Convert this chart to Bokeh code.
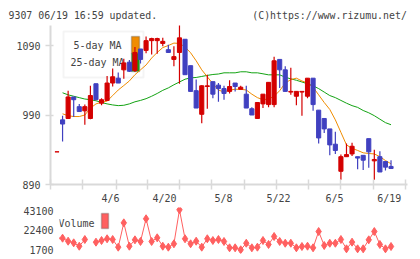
from bokeh.plotting import figure
from bokeh.layouts import column
from bokeh.models import Range1d, FixedTicker, Label, BoxAnnotation, ColumnDataSource
from bokeh.embed import file_html
from bokeh.resources import INLINE

nan = float("nan")

# Daily prices (trading-day order, oldest first)
opens = [937, 983, 985, 1016, 1002, 996, 985, 1035, 1007, 1011, 1036, 1043, 1055, 1066, 1054, 1085,
         1083, 1097, 1097, 1093, 1084, 1070, 1080, 1099, 1061, 1025, 991, 1031, 1038, 1033, 1028, 1024,
         1036, 1027, 1020, 999, 985, 1006, 1005, 1005, 1070, 1055, 1023, 1017, 1023, 1017, 1043, 997,
         985, 970, 948, 909, 930, 934, 930, 932, 956, 924, 930, 923, 916]
highs = [937, 989, 1025, 1016, 1006, 1005, 1032, 1035, 1014, 1046, 1057, 1051, 1071, 1069, 1088, 1085,
         1103, 1101, 1101, 1101, 1091, 1089, 1122, 1099, 1061, 1041, 1033, 1048, 1038, 1036, 1032, 1040,
         1036, 1032, 1032, 1001, 1008, 1020, 1037, 1074, 1070, 1060, 1058, 1024, 1024, 1043, 1043, 997,
         985, 970, 966, 933, 949, 950, 930, 932, 956, 940, 938, 923, 925]
lows = [937, 952, 985, 987, 995, 976, 984, 1012, 1004, 1010, 1031, 1036, 1042, 1052, 1052, 1064,
        1079, 1077, 1078, 1089, 1080, 1060, 1035, 1048, 1024, 1000, 978, 999, 1014, 1009, 1012, 1021,
        1024, 1027, 1000, 990, 985, 1000, 1001, 1001, 1029, 1024, 1019, 1004, 989, 1014, 996, 949,
        964, 932, 934, 897, 930, 931, 912, 911, 914, 897, 908, 910, 913]
closes = [937, 977, 1016, 1012, 995, 1002, 1018, 1012, 1012, 1036, 1045, 1036, 1065, 1053, 1080, 1070,
          1097, 1100, 1100, 1096, 1080, 1074, 1101, 1048, 1024, 1000, 1032, 1032, 1020, 1028, 1021, 1031,
          1031, 1030, 1000, 990, 1008, 1020, 1037, 1068, 1055, 1024, 1024, 1024, 1024, 1043, 1005, 957,
          970, 947, 939, 930, 933, 945, 928, 925, 937, 926, 908, 915, 913]

# Moving averages
ma5 = [nan, 991.7, 989, 987.8, 987.8, 990, 999.8, 1006, 1008.4, 1010, 1018, 1026, 1032.4, 1039, 1048,
       1055, 1062, 1072, 1080, 1087, 1090, 1093.5, 1093, 1088, 1079.5, 1068, 1055, 1045, 1035, 1026,
       1023, 1026, 1027, 1027, 1026, 1020, 1015, 1012, 1013, 1017, 1025, 1036, 1041, 1043, 1039, 1036,
       1030, 1019, 1008, 998, 983, 965, 947, 942, 939, 935.6, 934.6, 934, 930, 924.5, 919.8]
ma25 = [nan, 1022, 1019, 1017, 1015, 1013, 1012, 1010.5, 1008, 1006, 1004.5, 1003.5, 1004, 1006, 1009,
        1011, 1013.5, 1017, 1021, 1025.5, 1029, 1033.5, 1037.5, 1041.5, 1043.5, 1044, 1045.5, 1047,
        1048.3, 1049, 1050.7, 1050.7, 1050.7, 1052.2, 1052.2, 1050.7, 1050.7, 1049.3, 1047.8, 1047.8,
        1047.8, 1044.4, 1042, 1040, 1037.5, 1035, 1032, 1028, 1023, 1018, 1015, 1011, 1007, 1003.5,
        1001, 996.5, 993.2, 989, 984, 979, 976]

# Daily volume
volume = [13400, 13400, 10300, 8600, 5100, 12050, nan, 9300, 11000, 12800, 12050, 4100, 29300, 5100,
          11700, 10000, 33500, 10000, 13800, 5100, 4100, 7600, 42800, 12800, 7600, 10300, 4100, 12800,
          11000, 12050, 10000, 3460, 3460, 1400, 8200, 3460, 4100, 11000, 6900, 15150, 10000, 8200,
          8200, 3460, 4800, 5100, 3460, 20300, 5840, 8200, 8200, 12050, 2400, 9300, 2400, 2400, 11700,
          20300, 6900, 2400, 4800]

date_labels = ["4/6", "4/20", "5/8", "5/22", "6/5", "6/19"]
date_label_pos = [9.6, 19.3, 29.9, 39.8, 49.85, 59.7]
grid_tick_pos = [-1.16, 4.58, 10.69, 16.26, 22.0, 27.75, 33.68, 39.47, 45.22, 50.96, 56.89, 62.6]
price_ticks = [890, 990, 1090]
volume_ticks = [1700, 22400, 43100]

header_left = "9307 06/19 16:59 updated."
header_right = "(C)https://www.rizumu.net/"

RED = "#d40000"
BLUE = "#4040c0"
ORANGE = "#f08c00"
GREEN = "#13a313"
VOLC = "#ff6060"
AXIS = "#d9d9d9"
TEXT = "#444444"
FONT = "DejaVu Sans Mono"

idx = list(range(len(closes)))
up = [c >= o for o, c in zip(opens, closes)]
colors = [RED if u else BLUE for u in up]
src = ColumnDataSource(dict(
    x=idx, o=opens, h=highs, l=lows, c=closes,
    top=[max(o, c) for o, c in zip(opens, closes)],
    bot=[min(o, c) for o, c in zip(opens, closes)],
    col=colors,
))

X0, X1 = -1.168, 62.96

p = figure(width=420, height=206, x_range=Range1d(X0, X1), y_range=Range1d(890, 1118.8),
           output_backend="svg", toolbar_location=None,
           min_border_left=50, min_border_right=13, min_border_top=25, min_border_bottom=22)
p.frame_align = False
p.outline_line_color = None
p.grid.visible = False
p.background_fill_color = "white"

# header line: one monospace title, the two parts held apart by no-break spaces
p.title.text = header_left + "\u00a0" * 16 + header_right
p.title.align = "left"
p.title.offset = -42
p.title.standoff = 9
p.title.text_font = FONT
p.title.text_font_size = "9.9px"
p.title.text_font_style = "normal"
p.title.text_color = TEXT

# price legend (drawn beneath the candles)
p.add_layout(BoxAnnotation(left=13, right=93, bottom=107, top=153,
                           left_units="screen", right_units="screen",
                           bottom_units="screen", top_units="screen",
                           fill_color=None, line_color=AXIS, line_width=2, level="underlay"))
p.add_layout(BoxAnnotation(left=81, right=89, bottom=131, top=148,
                           left_units="screen", right_units="screen",
                           bottom_units="screen", top_units="screen",
                           fill_color=ORANGE, fill_alpha=1, line_color="#444444", line_width=1.5,
                           level="underlay"))
p.add_layout(BoxAnnotation(left=81, right=89, bottom=113, top=131,
                           left_units="screen", right_units="screen",
                           bottom_units="screen", top_units="screen",
                           fill_color=GREEN, fill_alpha=1, line_color="#444444", line_width=1.5,
                           level="underlay"))
for txt, yy in (("5-day MA", 139), ("25-day MA", 122.5)):
    p.add_layout(Label(x=47, y=yy, x_units="screen", y_units="screen", text=txt,
                       text_font=FONT, text_font_size="10px", text_color=TEXT,
                       text_align="center", text_baseline="middle", level="underlay"))

# moving averages
p.line(idx, ma25, line_color=GREEN, line_width=1)
p.line(idx, ma5, line_color=ORANGE, line_width=1)

# candles
p.segment(x0="x", y0="l", x1="x", y1="h", line_color="col", line_width=1.2, source=src)
p.vbar(x="x", width=0.74, top="top", bottom="bot", fill_color="col", line_color="col",
       line_width=1, source=src)

# axes
xa = p.xaxis[0]
xa.ticker = FixedTicker(ticks=date_label_pos, minor_ticks=grid_tick_pos)
xa.major_label_overrides = {pos: lab for pos, lab in zip(date_label_pos, date_labels)}
xa.major_tick_line_color = None
xa.major_tick_out = 5
xa.major_tick_in = 0
xa.minor_tick_line_color = AXIS
xa.minor_tick_line_width = 1.5
xa.minor_tick_in = 5
xa.minor_tick_out = 5
xa.axis_line_color = AXIS
xa.axis_line_width = 2
xa.major_label_standoff = 3
xa.major_label_text_font = FONT
xa.major_label_text_font_size = "10px"
xa.major_label_text_color = TEXT

ya = p.yaxis[0]
ya.ticker = FixedTicker(ticks=price_ticks)
ya.major_tick_line_color = AXIS
ya.major_tick_line_width = 1.5
ya.major_tick_in = 3
ya.major_tick_out = 5
ya.axis_line_color = AXIS
ya.axis_line_width = 2
ya.major_label_standoff = 5
ya.major_label_text_font = FONT
ya.major_label_text_font_size = "10px"
ya.major_label_text_color = TEXT

# volume panel
VX0 = 0.449
v = figure(width=420, height=53, x_range=Range1d(VX0, X1), y_range=Range1d(-2440, 45170),
           output_backend="svg", toolbar_location=None, x_axis_location=None,
           min_border_left=59, min_border_right=13, min_border_top=1, min_border_bottom=6)
v.frame_align = False
v.outline_line_color = None
v.grid.visible = False

v.add_layout(Label(x=-1, y=30.5, x_units="screen", y_units="screen", text="Volume",
                   text_font=FONT, text_font_size="10px", text_color=TEXT,
                   text_align="left", text_baseline="middle", level="underlay"))
v.add_layout(BoxAnnotation(left=42, right=49, bottom=25, top=40,
                           left_units="screen", right_units="screen",
                           bottom_units="screen", top_units="screen",
                           fill_color=VOLC, fill_alpha=1, line_color="#444444", line_width=1.5,
                           level="underlay"))

v.line(idx, volume, line_color=VOLC, line_width=1)
v.scatter(idx, volume, marker="diamond", size=8, fill_color=VOLC, line_color=VOLC)

vy = v.yaxis[0]
vy.ticker = FixedTicker(ticks=volume_ticks)
vy.axis_line_color = None
vy.major_tick_line_color = None
vy.major_tick_in = 0
vy.major_tick_out = 0
vy.major_label_standoff = 6
vy.major_label_text_font = FONT
vy.major_label_text_font_size = "10px"
vy.major_label_text_color = TEXT

layout = column(p, v, spacing=0)
open("out.html", "w").write(file_html(layout, INLINE))
